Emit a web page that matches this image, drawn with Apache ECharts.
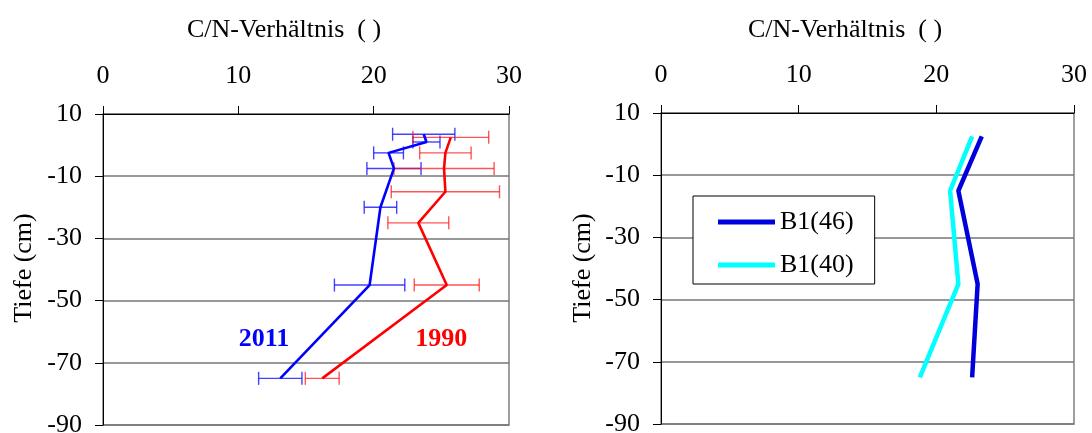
<!DOCTYPE html>
<html>
<head>
<meta charset="utf-8">
<script src="https://cdn.jsdelivr.net/npm/echarts@6/dist/echarts.min.js"></script>
<style>
html,body{margin:0;padding:0;background:#fff;}
#chart{width:1092px;height:433px;}
</style>
</head>
<body>
<div id="chart"></div>
<script>
// ---- data ----
const xTitle = 'C/N-Verhältnis  ( )';
const yTitle = 'Tiefe (cm)';
const xTicks = [0, 10, 20, 30];
const yTicks = [-90, -70, -50, -30, -10, 10];

// left panel: 2011 (blue) and 1990 (red), depth (cm) and C/N value with +/- error
const depth2011 = [3.5, 1, -2.5, -7.5, -20, -45, -75];
const cn2011    = [23.7, 23.9, 21.1, 21.5, 20.5, 19.7, 13.1];
const err2011   = [2.3, 1.0, 1.1, 2.0, 1.2, 2.6, 1.6];

const depth1990 = [2.5, -2.5, -7.5, -15, -25, -45, -75];
const cn1990    = [25.7, 25.3, 25.2, 25.3, 23.3, 25.4, 16.2];
const err1990   = [2.8, 1.9, 3.7, 4.0, 2.25, 2.4, 1.25];

const annotNames = ['2011', '1990'];
const annotCN    = [11.9, 25.0];
const annotDepth = [-62.5, -62.5];

// right panel
const depthB1 = [2.5, -15, -45, -75];
const cnB1_46 = [23.3, 21.6, 23.0, 22.6];
const cnB1_40 = [22.6, 21.0, 21.6, 18.8];

// ---- helpers ----
const OFF = 90; // shift depth so the axis starts at 0 (ticks every 20)
const FONT = "'Liberation Serif','Times New Roman',serif";
const FS = 26;
const pts = (xs, ds) => xs.map((v, i) => [v, ds[i] + OFF]);
const errPts = (xs, ds, es) => xs.map((v, i) => [v, ds[i] + OFF, es[i]]);

function errRender(color) {
  return function (params, api) {
    const x = api.value(0), y = api.value(1), e = api.value(2);
    const a = api.coord([x - e, y]), b = api.coord([x + e, y]);
    const h = 6.5;
    const st = { stroke: color, lineWidth: 1.4 };
    return {
      type: 'group',
      children: [
        { type: 'line', shape: { x1: a[0], y1: a[1], x2: b[0], y2: b[1] }, style: st },
        { type: 'line', shape: { x1: a[0], y1: a[1] - h, x2: a[0], y2: a[1] + h }, style: st },
        { type: 'line', shape: { x1: b[0], y1: b[1] - h, x2: b[0], y2: b[1] + h }, style: st }
      ]
    };
  };
}

function xAxisDef(gi) {
  return {
    gridIndex: gi, type: 'value', position: 'top', min: xTicks[0], max: xTicks[xTicks.length - 1], interval: 10,
    axisLine: { show: true, onZero: false, lineStyle: { color: '#000', width: 1 } },
    axisTick: { show: true, inside: false, length: 8, lineStyle: { color: '#000', width: 1 } },
    axisLabel: { show: true, margin: 25, fontFamily: FONT, fontSize: FS, color: '#000', showMinLabel: true, showMaxLabel: true },
    splitLine: { show: false }
  };
}
function yAxisDef(gi) {
  return {
    gridIndex: gi, type: 'value', min: yTicks[0] + OFF, max: yTicks[yTicks.length - 1] + OFF, interval: 20,
    axisLine: { show: true, onZero: false, lineStyle: { color: '#000', width: 1 } },
    axisTick: { show: true, inside: false, length: 8, lineStyle: { color: '#000', width: 1 } },
    axisLabel: { show: true, margin: 21, fontFamily: FONT, fontSize: FS, color: '#000',
      formatter: v => String(Math.round(v - OFF)), showMinLabel: true, showMaxLabel: true },
    splitLine: { show: true, lineStyle: { color: '#767676', width: 1.5 } }
  };
}

const chart = echarts.init(document.getElementById('chart'), null, { renderer: 'canvas' });
const option = {
  animation: false,
  backgroundColor: '#fff',
  textStyle: { fontFamily: FONT },
  grid: [
    { left: 103, top: 114, width: 406, height: 311, containLabel: false, outerBoundsMode: 'none',
      show: true, borderColor: '#808080', borderWidth: 1.5, backgroundColor: 'transparent' },
    { left: 661, top: 113, width: 413, height: 311, containLabel: false, outerBoundsMode: 'none',
      show: true, borderColor: '#808080', borderWidth: 1.5, backgroundColor: 'transparent' }
  ],
  xAxis: [xAxisDef(0), xAxisDef(1)],
  yAxis: [yAxisDef(0), yAxisDef(1)],
  legend: {
    data: [{ name: 'B1(46)', icon: 'rect' }, { name: 'B1(40)', icon: 'rect' }],
    orient: 'vertical', left: 693, top: 196,
    itemWidth: 57, itemHeight: 5, itemGap: 17,
    padding: [13, 21, 6, 25],
    borderColor: '#000', borderWidth: 1, backgroundColor: '#fff',
    textStyle: { fontFamily: FONT, fontSize: FS, color: '#000' }
  },
  graphic: [
    { type: 'text', x: 284, y: 30, style: { text: xTitle, fontFamily: FONT, fontSize: FS, fill: '#000', textAlign: 'center', textVerticalAlign: 'middle' } },
    { type: 'text', x: 845, y: 30, style: { text: xTitle, fontFamily: FONT, fontSize: FS, fill: '#000', textAlign: 'center', textVerticalAlign: 'middle' } },
    { type: 'text', x: 24, y: 268, rotation: Math.PI / 2, style: { text: yTitle, fontFamily: FONT, fontSize: FS, fill: '#000', textAlign: 'center', textVerticalAlign: 'middle' } },
    { type: 'text', x: 583, y: 268, rotation: Math.PI / 2, style: { text: yTitle, fontFamily: FONT, fontSize: FS, fill: '#000', textAlign: 'center', textVerticalAlign: 'middle' } }
  ],
  series: [
    { type: 'custom', name: 'err2011', xAxisIndex: 0, yAxisIndex: 0, encode: { x: 0, y: 1 },
      renderItem: errRender('rgba(20,20,255,0.8)'), data: errPts(cn2011, depth2011, err2011), z: 2 },
    { type: 'custom', name: 'err1990', xAxisIndex: 0, yAxisIndex: 0, encode: { x: 0, y: 1 },
      renderItem: errRender('rgba(255,20,20,0.72)'), data: errPts(cn1990, depth1990, err1990), z: 2 },
    { type: 'line', name: '2011', xAxisIndex: 0, yAxisIndex: 0, data: pts(cn2011, depth2011),
      showSymbol: false, symbol: 'none', lineStyle: { color: '#0000ff', width: 2.6 }, itemStyle: { color: '#0000ff' }, z: 3 },
    { type: 'line', name: '1990', xAxisIndex: 0, yAxisIndex: 0, data: pts(cn1990, depth1990),
      showSymbol: false, symbol: 'none', lineStyle: { color: '#ff0000', width: 2.6 }, itemStyle: { color: '#ff0000' }, z: 3 },
    { type: 'scatter', name: 'annot', xAxisIndex: 0, yAxisIndex: 0, symbolSize: 1,
      itemStyle: { opacity: 1, color: 'rgba(0,0,0,0)' },
      data: annotNames.map((n, i) => ({ value: [annotCN[i], annotDepth[i] + OFF], name: n,
        label: { show: true, position: 'inside', formatter: n, fontFamily: FONT, fontSize: FS, fontWeight: 'bold',
          opacity: 1, color: i === 0 ? '#0000ff' : '#ff0000' } })), z: 4 },
    { type: 'line', name: 'B1(46)', xAxisIndex: 1, yAxisIndex: 1, data: pts(cnB1_46, depthB1),
      showSymbol: false, symbol: 'none', lineStyle: { color: '#0000dd', width: 4.5 }, itemStyle: { color: '#0000dd' }, z: 3 },
    { type: 'line', name: 'B1(40)', xAxisIndex: 1, yAxisIndex: 1, data: pts(cnB1_40, depthB1),
      showSymbol: false, symbol: 'none', lineStyle: { color: '#00ffff', width: 4.5 }, itemStyle: { color: '#00ffff' }, z: 3 }
  ]
};
chart.setOption(option);
</script>
</body>
</html>
